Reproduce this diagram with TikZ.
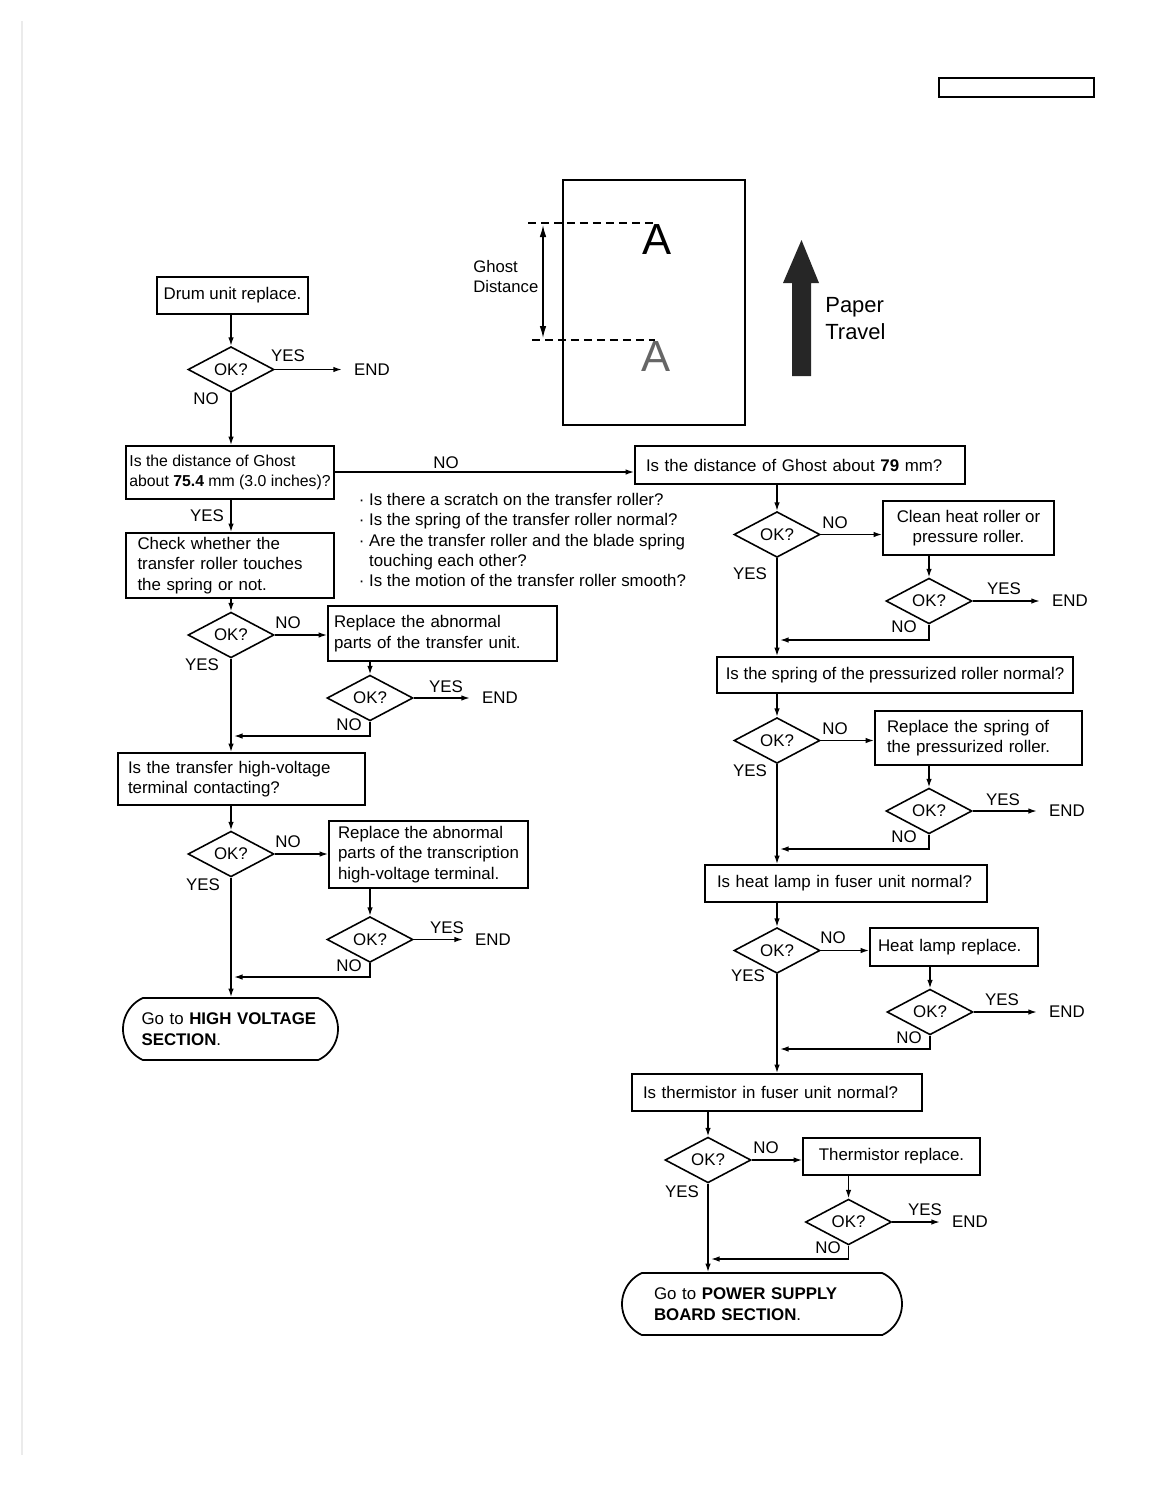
\documentclass[tikz,border=0pt]{standalone}
\usepackage{fontspec}
\setmainfont{Liberation Sans}
\usepackage{tikz}
\usetikzlibrary{shapes.geometric}
\usetikzlibrary{shapes.misc}
\usetikzlibrary{arrows.meta}
\usetikzlibrary{positioning}

\newlength{\px}
\setlength{\px}{0.02cm}

\begin{document}
\begin{tikzpicture}[x = 0.02cm, y = -0.02cm,
  font = \fontsize{9.6}{11.6}\selectfont,
  box/.style = {draw, line width = 1pt, inner sep = 0pt, align = left},
  okq/.style = {draw, diamond, line width = 0.9pt, inner sep = 0pt, minimum width = 86\px, minimum height = 36\px},
  term/.style = {draw, rounded rectangle, rounded rectangle arc length = 130, line width = 1pt, inner sep = 0pt, align = left},
  lbl/.style = {inner sep = 0pt},
  flow/.style = {line width = 0.8pt, -{Latex[length = 1.7mm, width = 1.1mm]}},
  toend/.style = {flow, shorten > = 12\px}]
\useasboundingbox (0,0) rectangle (1167,1511);

% page marks
\draw[black!8, line width = 0.6pt] (22,21) -- (22,1455);
\draw[line width = 0.8pt] (939,78) rectangle (1094,97);

% ghost sketch
\node[draw, line width = 1.1pt, minimum width = 182\px, minimum height = 245\px] (paper) at (654,302.5) {};
\node[lbl, font = \fontsize{24.8}{28}\selectfont] (ltrA) at (657,240) {A};
\node[lbl, font = \fontsize{24.8}{28}\selectfont, text = black!60] (ltrB) at (656,357) {A};
\coordinate (gtop) at (528,223);
\coordinate (gbot) at (532,340);
\draw[dash pattern = on 1.6mm off 1mm, line width = 0.6pt] (gtop) -- (655,223);
\draw[dash pattern = on 1.6mm off 1mm, line width = 0.6pt] (gbot) -- (655,340);
\draw[line width = 0.7pt, {Latex[length = 2.4mm, width = 1.3mm]}-{Latex[length = 2.4mm, width = 1.3mm]}] (543,225) -- (543,338);
\node[lbl, anchor = west, align = left, font = \fontsize{9.5}{11.9}\selectfont] (gdist) at (473,276.5) {Ghost\\Distance};
\fill[black!85] (792,376) -- (811,376) -- (811,283) -- (819,283) -- (801.5,240) -- (783,283) -- (792,283) -- cycle;
\node[lbl, anchor = west, align = left, font = \fontsize{12.5}{15.4}\selectfont] (travel) at (825,318.5) {Paper\\Travel};

% left column
\node[box, minimum width = 151\px, minimum height = 37\px] (drum) at (232.5,295.5) {Drum unit replace.};
\node[okq] (ok1) at (231,369.5) {OK?};
\node[box, minimum width = 208\px, minimum height = 53\px, font = \fontsize{9.0}{11.4}\selectfont] (qA) at (230,472.5) {Is the distance of Ghost\\about \textbf{75.4} mm (3.0 inches)?};
\node[box, minimum width = 208\px, minimum height = 65\px, text width = 185\px] (check) at (230,565.5) {Check whether the\\transfer roller touches\\the spring or not.};
\node[okq] (ok2) at (231,635) {OK?};
\node[box, minimum width = 229\px, minimum height = 55\px, text width = 217\px] (repA) at (442.5,633.5) {Replace the abnormal\\parts of the transfer unit.};
\node[okq] (ok3) at (370,698) {OK?};
\node[box, minimum width = 247\px, minimum height = 52\px, text width = 227\px] (hvq) at (241.5,779) {Is the transfer high-voltage\\terminal contacting?};
\node[okq] (ok4) at (231,854) {OK?};
\node[box, minimum width = 199\px, minimum height = 67\px] (repB) at (428.5,854.5) {Replace the abnormal\\parts of the transcription\\high-voltage terminal.};
\node[okq] (ok5) at (370,939.5) {OK?};
\node[term, minimum width = 215\px, minimum height = 62\px, text width = 178\px] (hvgo) at (230.5,1029) {Go to \textbf{HIGH VOLTAGE}\\\textbf{SECTION}.};

\node[lbl, anchor = west, align = left] (notes) at (358.5,540) {· Is there a scratch on the transfer roller?\\· Is the spring of the transfer roller normal?\\· Are the transfer roller and the blade spring\\\hphantom{·\ }touching each other?\\· Is the motion of the transfer roller smooth?};

% right column
\node[box, minimum width = 330\px, minimum height = 38\px, text width = 308\px] (q79) at (800,465) {Is the distance of Ghost about \textbf{79} mm?};
\node[okq] (okR1) at (777,534.5) {OK?};
\node[box, minimum width = 171\px, minimum height = 54\px, align = center] (clean) at (968.5,528) {Clean heat roller or\\pressure roller.};
\node[okq] (okR2) at (929,601) {OK?};
\node[box, minimum width = 356\px, minimum height = 36\px] (spring) at (895,675) {Is the spring of the pressurized roller normal?};
\node[okq] (okR3) at (777,740.5) {OK?};
\node[box, minimum width = 207\px, minimum height = 54\px, text width = 183\px] (repS) at (978.5,738) {Replace the spring of\\the pressurized roller.};
\node[okq] (okR4) at (929,811) {OK?};
\node[box, minimum width = 282\px, minimum height = 37\px, text width = 258\px] (lamp) at (846,883.5) {Is heat lamp in fuser unit normal?};
\node[okq] (okR5) at (777,950.5) {OK?};
\node[box, minimum width = 168\px, minimum height = 38\px, text width = 152\px] (lampR) at (954,947) {Heat lamp replace.};
\node[okq] (okR6) at (930,1012) {OK?};
\node[box, minimum width = 290\px, minimum height = 37\px, text width = 268\px] (therm) at (777,1092.5) {Is thermistor in fuser unit normal?};
\node[okq] (okT1) at (708,1160) {OK?};
\node[box, minimum width = 177\px, minimum height = 37\px] (thermR) at (891.5,1156.5) {Thermistor replace.};
\node[okq] (okT2) at (848.5,1222) {OK?};
\node[term, minimum width = 280\px, minimum height = 62\px, text width = 216\px] (psgo) at (762,1304) {Go to \textbf{POWER SUPPLY}\\\textbf{BOARD SECTION}.};

% answers
\foreach \n/\x/\y/\t in {
  e1/372/369.5/END, y1/288/356/YES, n1/206/399/NO,
  yA/207/516/YES, nA/446/463/NO,
  n2/288/623/NO, y2/202/665/YES,
  y3/446/687/YES, e3/500/698/END, n3/349/725/NO,
  n4/288/842/NO, y4/203/885/YES,
  y5/447/928/YES, e5/493/939.5/END, n5/349/966/NO,
  nR1/835/523/NO, yR1/750/574/YES,
  yR2/1004/589/YES, eR2/1070/601/END, nR2/904/627/NO,
  nR3/835/729/NO, yR3/750/771/YES,
  yR4/1003/800/YES, eR4/1067/811/END, nR4/904/837/NO,
  nR5/833/938/NO, yR5/748/976/YES,
  yR6/1002/1000/YES, eR6/1067/1012/END, nR6/909/1038/NO,
  nT1/766/1148/NO, yT1/682/1192/YES,
  yT2/925/1210/YES, eT2/970/1222/END, nT2/828/1248/NO}
  \node[lbl] (\n) at (\x,\y) {\t};

\coordinate (back1) at (234,736);
\coordinate (back2) at (234,977);
\coordinate (back3) at (780,640);
\coordinate (back4) at (780,849);
\coordinate (back5) at (780,1049);
\coordinate (back6) at (711,1259);

% left flow
\draw[flow] (ok1.north |- drum.south) -- (ok1.north);
\draw[toend] (ok1.east) -- (ok1.east -| e1.west);
\draw[flow] (ok1.south) -- (ok1.south |- qA.north);
\draw[flow] (qA.east |- 0,472) -- (q79.west |- 0,472);
\draw[flow] (ok1.south |- qA.south) -- (ok1.south |- check.north);
\draw[flow] (ok2.north |- check.south) -- (ok2.north);
\draw[flow] (ok2.east) -- (ok2.east -| repA.west);
\draw[flow] (ok3.north |- repA.south) -- (ok3.north);
\draw[toend] (ok3.east) -- (ok3.east -| e3.west);
\draw[flow] (ok3.south) |- (back1);
\draw[flow] (ok2.south) -- (ok2.south |- hvq.north);
\draw[flow] (ok4.north |- hvq.south) -- (ok4.north);
\draw[flow] (ok4.east) -- (ok4.east -| repB.west);
\draw[flow] (ok5.north |- repB.south) -- (ok5.north);
\draw[toend] (ok5.east) -- (ok5.east -| e5.west);
\draw[flow] (ok5.south) |- (back2);
\draw[flow] (ok4.south) -- (ok4.south |- hvgo.north);

% right flow
\draw[flow] (okR1.north |- q79.south) -- (okR1.north);
\draw[flow] (okR1.east) -- (okR1.east -| clean.west);
\draw[flow] (okR2.north |- clean.south) -- (okR2.north);
\draw[toend] (okR2.east) -- (okR2.east -| eR2.west);
\draw[flow] (okR2.south) |- (back3);
\draw[flow] (okR1.south) -- (okR1.south |- spring.north);
\draw[flow] (okR3.north |- spring.south) -- (okR3.north);
\draw[flow] (okR3.east) -- (okR3.east -| repS.west);
\draw[flow] (okR4.north |- repS.south) -- (okR4.north);
\draw[toend] (okR4.east) -- (okR4.east -| eR4.west);
\draw[flow] (okR4.south) |- (back4);
\draw[flow] (okR3.south) -- (okR3.south |- lamp.north);
\draw[flow] (okR5.north |- lamp.south) -- (okR5.north);
\draw[flow] (okR5.east) -- (okR5.east -| lampR.west);
\draw[flow] (okR6.north |- lampR.south) -- (okR6.north);
\draw[toend] (okR6.east) -- (okR6.east -| eR6.west);
\draw[flow] (okR6.south) |- (back5);
\draw[flow] (okR5.south) -- (okR5.south |- therm.north);
\draw[flow] (okT1.north |- therm.south) -- (okT1.north);
\draw[flow] (okT1.east) -- (okT1.east -| thermR.west);
\draw[flow] (okT2.north |- thermR.south) -- (okT2.north);
\draw[toend] (okT2.east) -- (okT2.east -| eT2.west);
\draw[flow] (okT2.south) |- (back6);
\draw[flow] (okT1.south) -- (okT1.south |- psgo.north);
\end{tikzpicture}
\end{document}
